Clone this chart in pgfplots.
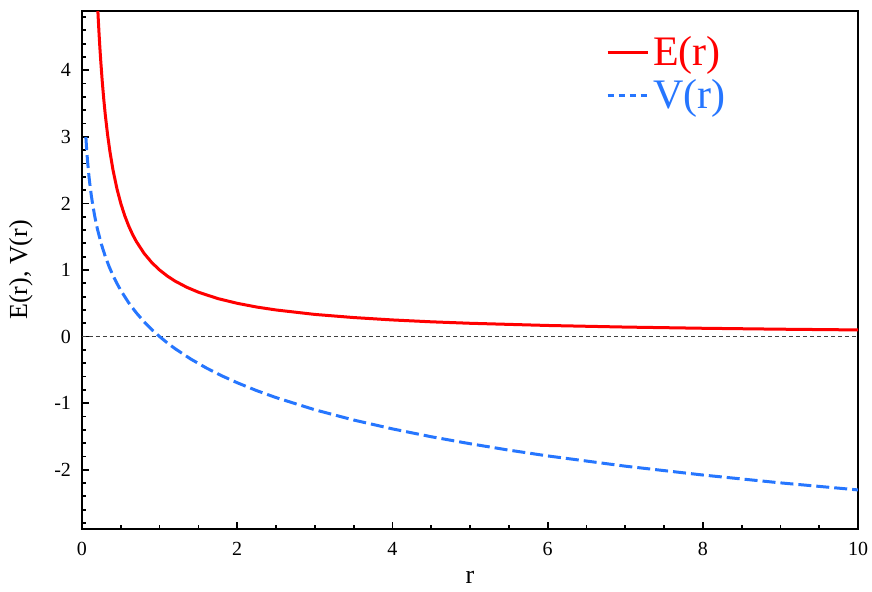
\documentclass[border=0pt]{standalone}
\usepackage{fontspec}
\setmainfont{Liberation Serif}
\usepackage{pgfplots}
\pgfplotsset{compat=1.18}
\definecolor{ered}{RGB}{255,0,0}
\definecolor{vblue}{RGB}{38,118,255}
\begin{document}
\begin{tikzpicture}
\path[use as bounding box] (-41pt,-31pt) rectangle (395pt,264.5pt);
\begin{axis}[
  scale only axis,
  width=388pt, height=259pt,
  xmin=0, xmax=10, ymin=-2.89, ymax=4.89,
  axis line style={line width=1pt},
  xtick={0,2,4,6,8,10},
  ytick={-2,-1,0,1,2,3,4},
  minor xtick={0.5,1,1.5,2.5,3,3.5,4.5,5,5.5,6.5,7,7.5,8.5,9,9.5},
  minor ytick={-2.8,-2.6,-2.4,-2.2,-1.8,-1.6,-1.4,-1.2,-0.8,-0.6,-0.4,-0.2,0.2,0.4,0.6,0.8,1.2,1.4,1.6,1.8,2.2,2.4,2.6,2.8,3.2,3.4,3.6,3.8,4.2,4.4,4.6,4.8},
  xtick pos=bottom, ytick pos=left,
  tick align=inside,
  major tick length=3.5pt, minor tick length=2.2pt,
  every tick/.style={black, line width=0.9pt},
  /pgf/number format/assume math mode=true,
  tick label style={font=\fontsize{10}{12}\selectfont},
  yticklabel style={xshift=-2pt},
  xticklabel style={yshift=-3pt},
  xlabel={r}, ylabel={E(r), V(r)},
  label style={font=\fontsize{13}{15}\selectfont},
  ylabel style={yshift=4pt},
  xlabel style={yshift=-1pt},
  legend style={draw=none, fill=none, at={(0.675,0.96)}, anchor=north west,
    font=\fontsize{21}{23}\selectfont, row sep=1.5pt, inner sep=0pt},
  legend cell align=left,
]
\addplot[black!75, line width=0.5pt, dash pattern=on 2pt off 1.5pt, forget plot]
  coordinates {(0,0) (10,0)};
\addplot[ered, line width=1.5pt,
  legend image code/.code={\draw[ered, line width=1.5pt] (0pt,0pt) -- (20pt,0pt);}]
  coordinates {
  (0.19,5.263) (0.2,5.0) (0.21,4.762) (0.22,4.545) (0.23,4.348) (0.24,4.167)
  (0.26,3.846) (0.28,3.571) (0.3,3.333) (0.33,3.030) (0.36,2.778) (0.4,2.5)
  (0.45,2.222) (0.5,2.0) (0.55,1.818) (0.6,1.667) (0.65,1.538) (0.7,1.429)
  (0.8,1.25) (0.9,1.111) (1.0,1.0) (1.1,0.909) (1.2,0.833) (1.35,0.741)
  (1.5,0.667) (1.75,0.571) (2.0,0.5) (2.25,0.444) (2.5,0.4) (3.0,0.333)
  (3.5,0.286) (4.0,0.25) (4.5,0.222) (5.0,0.2) (6.0,0.167) (7.0,0.143)
  (8.0,0.125) (9.0,0.111) (10.0,0.1)};
\addlegendentry{\textcolor{ered}{E(r)}}
\addplot[vblue, line width=1.5pt, dash pattern=on 6.5pt off 2.5pt,
  legend image code/.code={\draw[vblue, line width=1.5pt, dash pattern=on 3pt off 2.5pt] (0pt,0pt) -- (20pt,0pt);}]
  coordinates {
  (0.05,2.996) (0.06,2.813) (0.07,2.659) (0.08,2.526) (0.09,2.408) (0.1,2.303)
  (0.12,2.120) (0.14,1.966) (0.17,1.772) (0.2,1.609) (0.25,1.386) (0.3,1.204)
  (0.35,1.050) (0.4,0.916) (0.45,0.799) (0.5,0.693) (0.6,0.511) (0.7,0.357)
  (0.8,0.223) (0.9,0.105) (1.0,0.0) (1.1,-0.095) (1.2,-0.182) (1.4,-0.336)
  (1.6,-0.470) (1.8,-0.588) (2.0,-0.693) (2.25,-0.811) (2.5,-0.916)
  (3.0,-1.099) (3.5,-1.253) (4.0,-1.386) (4.5,-1.504) (5.0,-1.609)
  (5.5,-1.705) (6.0,-1.792) (7.0,-1.946) (8.0,-2.079) (9.0,-2.197) (10.0,-2.303)};
\addlegendentry{\textcolor{vblue}{V(r)}}
\end{axis}
\end{tikzpicture}
\end{document}
